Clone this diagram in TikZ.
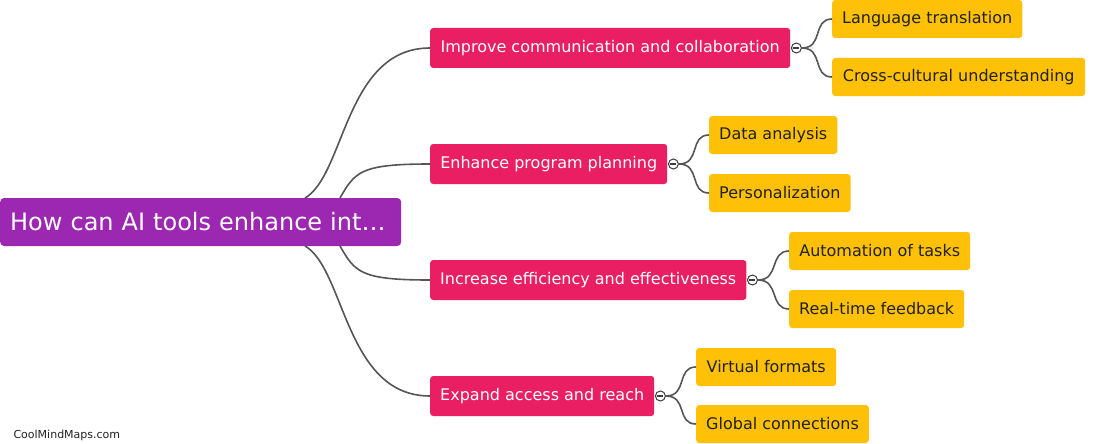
\documentclass[tikz,border=0pt]{standalone}
\usepackage{fontspec}
\setmainfont{DejaVu Sans}
\usepackage{xcolor}
\usetikzlibrary{calc}

\definecolor{rootpurple}{HTML}{9C27B0}
\definecolor{branchpink}{HTML}{E91E63}
\definecolor{leafyellow}{HTML}{FFC107}
\definecolor{linkgray}{HTML}{555555}
\definecolor{leaftext}{HTML}{212121}

\begin{document}
\begin{tikzpicture}[
  x=1pt, y=-1pt,
  rootbox/.style={rectangle, rounded corners=4pt, fill=rootpurple, text=white, minimum height=48pt, inner xsep=10pt, text width=381pt, align=left, anchor=west, font=\fontsize{24}{28}\selectfont},
  branch/.style={rectangle, rounded corners=3pt, fill=branchpink, text=white, minimum height=40pt, inner xsep=10pt, anchor=west, font=\fontsize{16}{19}\selectfont},
  leaf/.style={rectangle, rounded corners=3pt, fill=leafyellow, text=leaftext, minimum height=38pt, inner xsep=10pt, anchor=west, font=\fontsize{16}{19}\selectfont},
  fold/.style={circle, draw=linkgray!70!black, line width=1pt, fill=white, minimum size=10pt, inner sep=0pt,
    path picture={\draw[line width=1.2pt] ([xshift=-3pt]path picture bounding box.center) -- ([xshift=3pt]path picture bounding box.center);}},
  link/.style={draw=linkgray, line width=1.6pt}
]
\useasboundingbox (0,0) rectangle (1098,444);

% root and branches
\node[rootbox] (root) at (0,222) {How can AI tools enhance int…};
\node[branch, minimum width=360pt] (b1) at (430,48) {Improve communication and collaboration};
\node[branch, minimum width=237pt] (b2) at (430,164) {Enhance program planning};
\node[branch, minimum width=316pt] (b3) at (430,280) {Increase efficiency and effectiveness};
\node[branch, minimum width=224pt] (b4) at (430,396) {Expand access and reach};

% fold markers
\node[fold] (f1) at ($(b1.east)+(6,0)$) {};
\node[fold] (f2) at ($(b2.east)+(6,0)$) {};
\node[fold] (f3) at ($(b3.east)+(6,0)$) {};
\node[fold] (f4) at ($(b4.east)+(6,0)$) {};

% leaves
\node[leaf, minimum width=189pt] (l11) at (832,19) {Language translation};
\node[leaf, minimum width=253pt] (l12) at (832,77) {Cross-cultural understanding};
\node[leaf, minimum width=128pt] (l21) at (709,135) {Data analysis};
\node[leaf, minimum width=141pt] (l22) at (709,193) {Personalization};
\node[leaf, minimum width=181pt] (l31) at (789,251) {Automation of tasks};
\node[leaf, minimum width=175pt] (l32) at (789,309) {Real-time feedback};
\node[leaf, minimum width=140pt] (l41) at (696,367) {Virtual formats};
\node[leaf, minimum width=171pt] (l42) at (696,424) {Global connections};

% where the root links leave
\coordinate (r1) at (305,198);
\coordinate (r2) at (340,198);
\coordinate (r3) at (340,246);
\coordinate (r4) at (305,246);

\draw[link] (r1) .. controls (345,175) and (345,48) .. (b1.west);
\draw[link] (r2) .. controls (355,172) and (360,164) .. (b2.west);
\draw[link] (r3) .. controls (355,272) and (360,280) .. (b3.west);
\draw[link] (r4) .. controls (345,269) and (345,396) .. (b4.west);

\foreach \f/\a/\b in {f1/l11/l12, f2/l21/l22, f3/l31/l32, f4/l41/l42} {
  \draw[link] (\f.east) .. controls +(22,0) and ($(\a.west)+(-20,0)$) .. (\a.west);
  \draw[link] (\f.east) .. controls +(22,0) and ($(\b.west)+(-20,0)$) .. (\b.west);
}

\node[anchor=west, text=leaftext, font=\fontsize{11}{13}\selectfont] (brand) at (10,435) {CoolMindMaps.com};
\end{tikzpicture}
\end{document}
